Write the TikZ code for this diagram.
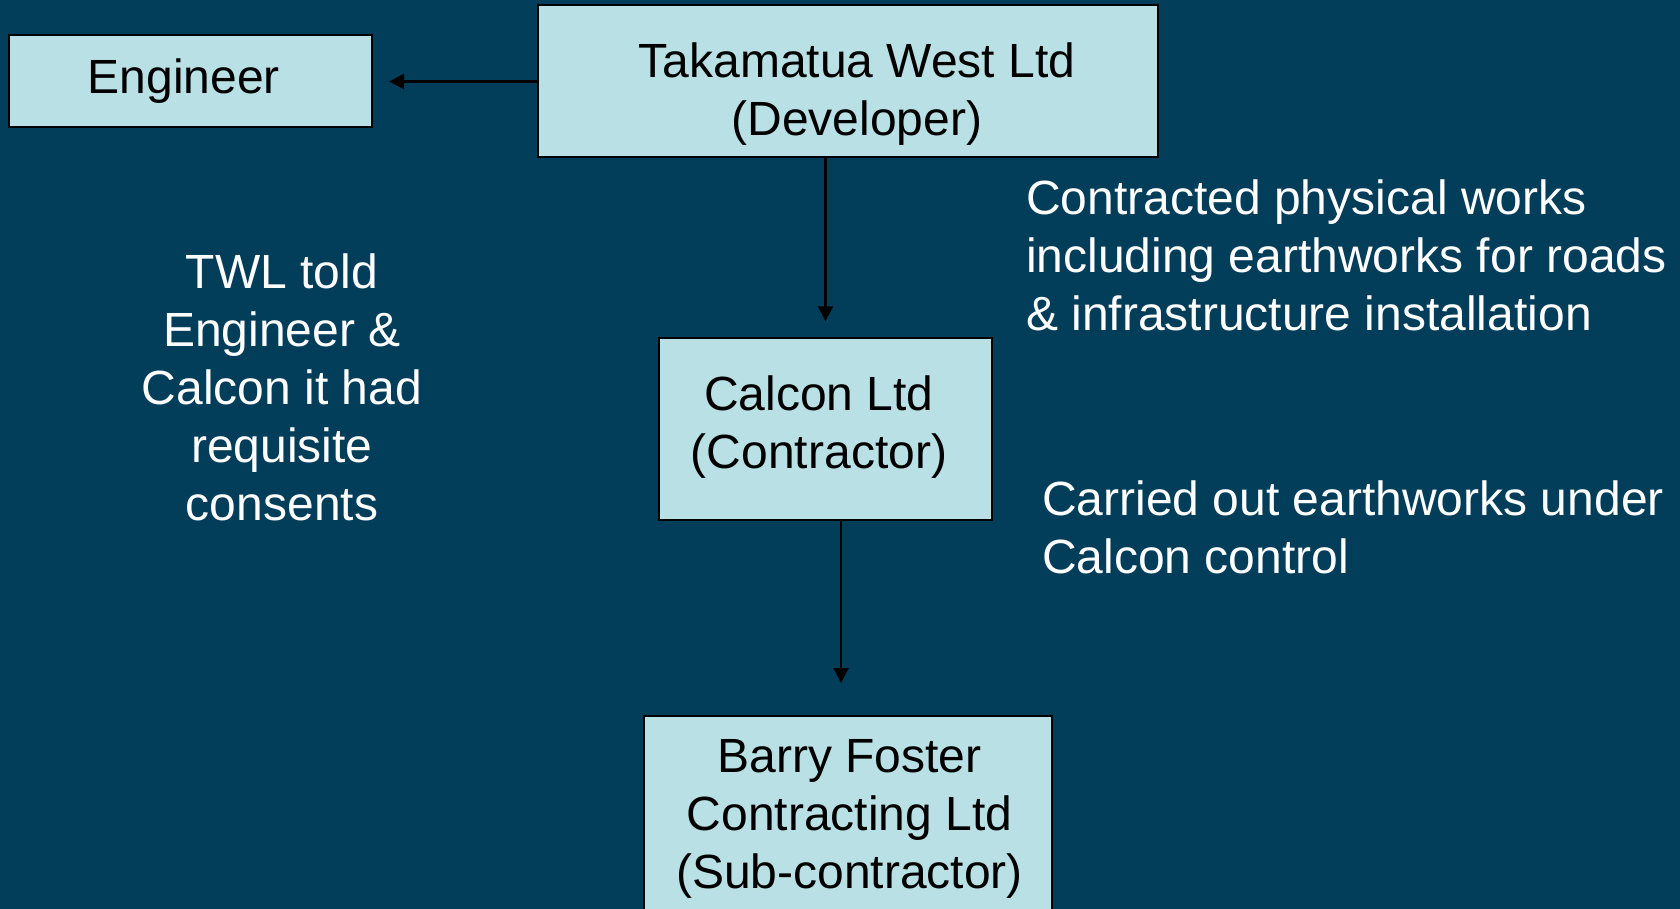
\documentclass[tikz,border=0pt]{standalone}
\usepackage{fontspec}
\setmainfont{Liberation Sans}
\usetikzlibrary{arrows.meta}
\definecolor{slidebg}{HTML}{023D5A}
\definecolor{boxfill}{HTML}{B9E0E4}
\begin{document}
\begin{tikzpicture}[x=1pt, y=-1pt,
    font=\fontsize{48}{58}\selectfont,
    party/.style={draw=black, line width=2pt, fill=boxfill, inner sep=0pt},
    partytext/.style={text=black, align=center, inner sep=0pt},
    note/.style={text=white, inner sep=0pt},
    link/.style={line width=2.2pt, -{Triangle[length=15pt, width=15pt]}}]
  \fill[slidebg] (0,0) rectangle (1680,909);
  \useasboundingbox (0,0) rectangle (1680,909);
  \clip (0,0) rectangle (1680,909);
  % boxes
  \node[party, minimum width=363.5pt, minimum height=91.5pt] (engineer) at (190.3,80.8) {};
  \node[party, minimum width=620pt, minimum height=152pt] (tak) at (848,81.5) {};
  \node[party, minimum width=333pt, minimum height=181.5pt] (calcon) at (825.5,429) {};
  \node[party, minimum width=408pt, minimum height=205pt] (barry) at (848,818.5) {};
  \node[partytext] (engineertext) at ([xshift=-6.5pt]engineer.center) {Engineer};
  \node[partytext] (taktext) at ([xshift=9pt, yshift=-13pt]tak.center) {Takamatua West Ltd\\(Developer)};
  \node[partytext] (calcontext) at ([xshift=-6.5pt, yshift=1.5pt]calcon.center) {Calcon Ltd\\(Contractor)};
  \node[partytext] (barrytext) at ([xshift=1.5pt]barry.center) {Barry Foster\\Contracting Ltd\\(Sub-contractor)};
  % notes
  \node[note, align=center] (consents) at (282,387) {TWL told\\Engineer \&\\Calcon it had\\requisite\\consents};
  \node[note, align=left, anchor=west] (works) at (1026,255) {Contracted physical works\\including earthworks for roads\\\& infrastructure installation};
  \node[note, align=left, anchor=west] (control) at (1042,527.5) {Carried out earthworks under\\Calcon control};
  % arrows
  \draw[link, shorten >=16pt] (tak.west) -- (tak.west -| engineer.east);
  \draw[link, shorten >=16pt] (tak.south -| calcon.north) -- (calcon.north);
  \draw[link, shorten >=32pt] ([xshift=15.5pt]calcon.south) -- ([xshift=15.5pt]calcon.south |- barry.north);
\end{tikzpicture}
\end{document}
